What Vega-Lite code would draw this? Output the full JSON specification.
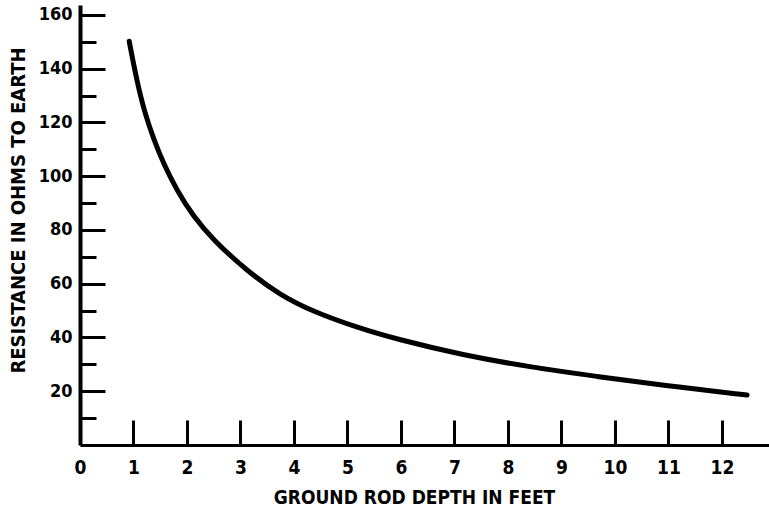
{
  "$schema": "https://vega.github.io/schema/vega-lite/v6.json",
  "autosize": "none",
  "width": 689,
  "height": 440,
  "padding": {"left": 80, "top": 5, "right": 0, "bottom": 63},
  "background": "white",
  "config": {
    "view": {"stroke": null},
    "axis": {
      "grid": false,
      "domainColor": "black",
      "tickColor": "black",
      "labelColor": "black",
      "titleColor": "black",
      "labelFont": "'Liberation Sans Narrow', 'DejaVu Sans Condensed', Roboto, sans-serif",
      "titleFont": "'Liberation Sans Narrow', 'DejaVu Sans Condensed', Roboto, sans-serif",
      "labelFontWeight": "bold",
      "titleFontWeight": "bold"
    }
  },
  "data": {
    "values": [
      {"depth": 0.92, "ohms": 150.2},
      {"depth": 1.06, "ohms": 135.7},
      {"depth": 1.21, "ohms": 123.6},
      {"depth": 1.37, "ohms": 114.2},
      {"depth": 1.56, "ohms": 104.7},
      {"depth": 1.81, "ohms": 94.8},
      {"depth": 2.12, "ohms": 85},
      {"depth": 2.49, "ohms": 76.3},
      {"depth": 3.12, "ohms": 64.8},
      {"depth": 3.74, "ohms": 55.8},
      {"depth": 4.36, "ohms": 49.6},
      {"depth": 5.23, "ohms": 43.4},
      {"depth": 5.92, "ohms": 39.4},
      {"depth": 7.16, "ohms": 33.4},
      {"depth": 8.41, "ohms": 29},
      {"depth": 9.66, "ohms": 25.5},
      {"depth": 10.9, "ohms": 22.2},
      {"depth": 12.47, "ohms": 18.6}
    ]
  },
  "mark": {"type": "line", "color": "black", "strokeWidth": 5, "strokeCap": "round", "interpolate": "basis"},
  "encoding": {
    "x": {
      "field": "depth",
      "type": "quantitative",
      "scale": {"domain": [0, 12.88], "nice": false, "zero": false},
      "axis": {
        "title": "GROUND ROD DEPTH IN FEET",
        "values": [0, 1, 2, 3, 4, 5, 6, 7, 8, 9, 10, 11, 12],
        "tickSize": -25,
        "tickWidth": 3,
        "tickOpacity": {"condition": {"test": "datum.value === 0", "value": 0}, "value": 1},
        "domainWidth": 3,
        "labelPadding": 53,
        "labelBaseline": "alphabetic",
        "labelFontSize": 19,
        "labelFlush": false,
        "labelOverlap": false,
        "titleFontSize": 19,
        "titleBaseline": "alphabetic",
        "titleX": 334,
        "titleY": 58
      }
    },
    "y": {
      "field": "ohms",
      "type": "quantitative",
      "scale": {"domain": [0, 163.7], "nice": false},
      "axis": {
        "title": "RESISTANCE IN OHMS TO EARTH",
        "values": [10, 20, 30, 40, 50, 60, 70, 80, 90, 100, 110, 120, 130, 140, 150, 160],
        "tickSize": {"condition": {"test": "datum.value % 20 === 0", "value": -25}, "value": -16},
        "tickWidth": 3,
        "domainWidth": 4,
        "labelPadding": 33,
        "labelExpr": "datum.value % 20 === 0 ? datum.label : ''",
        "labelFontSize": 18,
        "labelFlush": false,
        "labelOverlap": false,
        "titleFontSize": 20,
        "titleX": -52,
        "titleY": 205
      }
    }
  }
}
